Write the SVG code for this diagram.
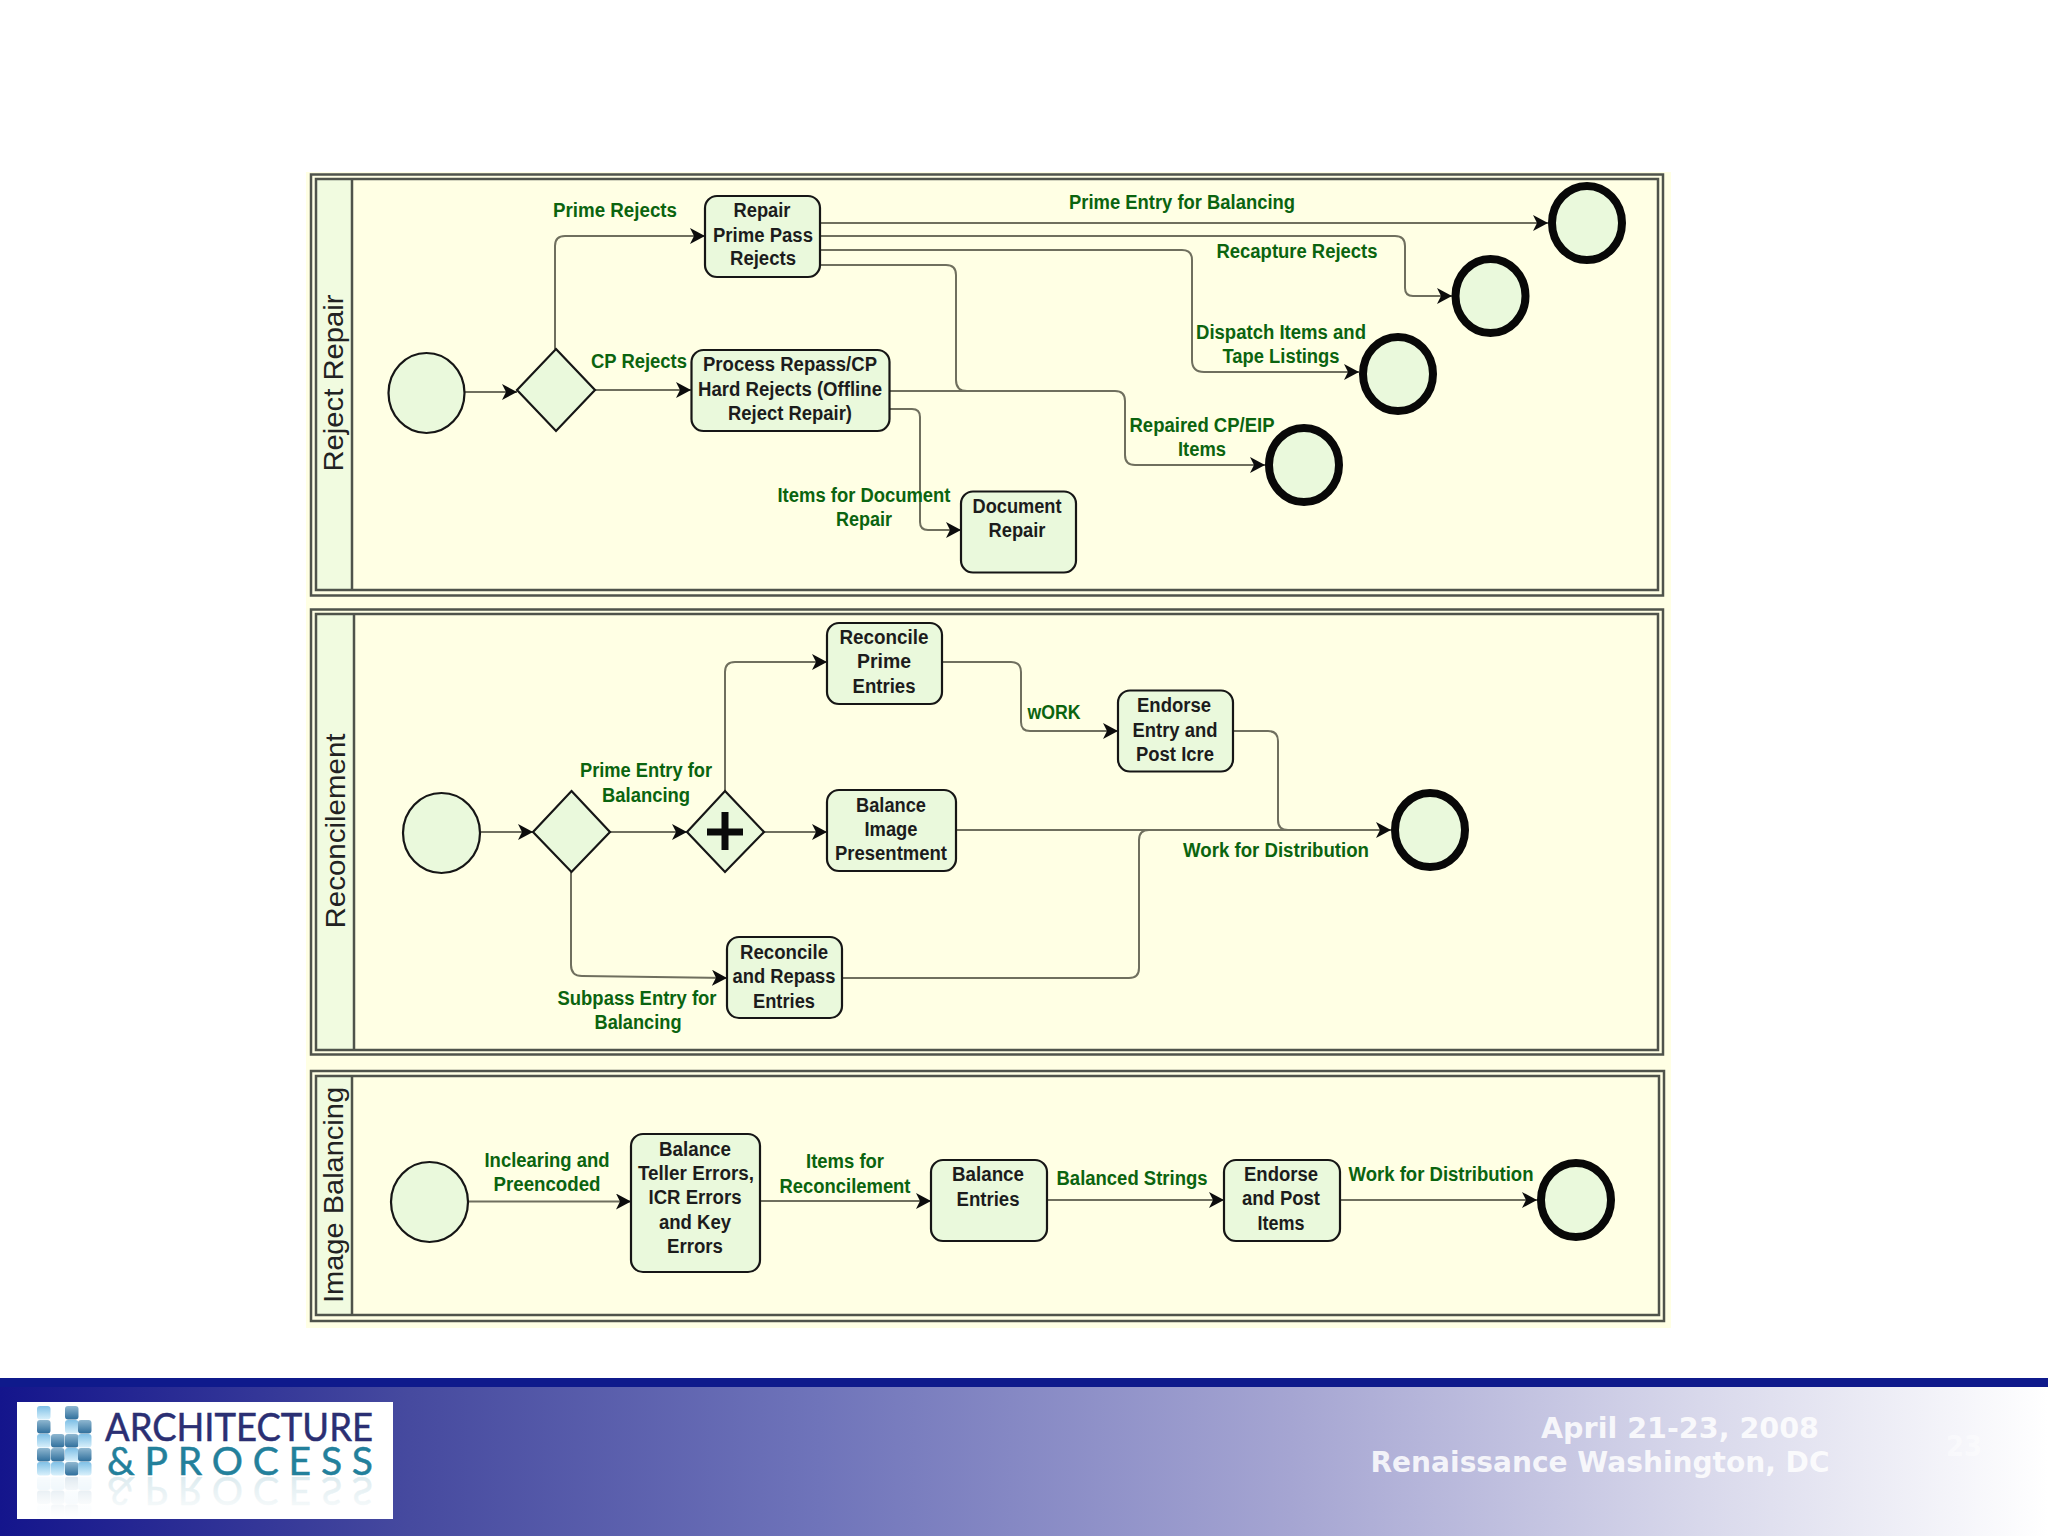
<svg xmlns="http://www.w3.org/2000/svg" xmlns:xlink="http://www.w3.org/1999/xlink" width="2048" height="1536" viewBox="0 0 2048 1536">
<style>
text{font-family:"Liberation Sans",Arial,sans-serif;text-anchor:middle}
.pool{fill:none;stroke:#4f534b;stroke-width:2.5}
.hdr{fill:#f1fbe0}
.lane{font-size:28px;fill:#222}
.n{fill:#eaf9dc;stroke:#161616;stroke-width:2.2}
.e{fill:#eaf9dc;stroke:#080808;stroke-width:8}
.t{font-size:20px;font-weight:700;fill:#1c1c1c}
.l{font-size:20px;font-weight:700;fill:#0b640f}
.c{fill:none;stroke:#6f6f5e;stroke-width:2;marker-end:url(#a)}
.c2{fill:none;stroke:#6f6f5e;stroke-width:2}
.f{font-family:"DejaVu Sans",Verdana,sans-serif;font-weight:700;font-size:28px;fill:#fff}
.d{fill:url(#sq1)}
.b{fill:url(#sq2)}
</style>
<defs>
<marker id="a" markerUnits="userSpaceOnUse" markerWidth="18" markerHeight="18" refX="15" refY="8" orient="auto"><path d="M0,0L15,8L0,16L4,8z" fill="#0c0c0c"/></marker>
<linearGradient id="bar" x1="0" x2="1" y1="0" y2="0"><stop offset="0" stop-color="#14158c"/><stop offset=".2" stop-color="#464a9f"/><stop offset=".4" stop-color="#6f74ba"/><stop offset=".63" stop-color="#a5a5d2"/><stop offset=".83" stop-color="#d8d8eb"/><stop offset="1" stop-color="#fff"/></linearGradient>
<linearGradient id="sq1" x1="0" x2="0" y1="0" y2="1"><stop offset="0" stop-color="#8fb7d0"/><stop offset="1" stop-color="#2f6f9c"/></linearGradient>
<linearGradient id="sq2" x1="0" x2="0" y1="0" y2="1"><stop offset="0" stop-color="#7fc0e6"/><stop offset="1" stop-color="#d8f0fb"/></linearGradient>
<linearGradient id="fade" x1="0" x2="0" y1="0" y2="1"><stop offset="0" stop-color="#fff" stop-opacity=".45"/><stop offset="1" stop-color="#fff" stop-opacity="1"/></linearGradient>
<clipPath id="logoclip"><rect x="17" y="1477" width="376" height="42"/></clipPath>
</defs>
<rect width="2048" height="1536" fill="#fff"/>
<rect x="306" y="172" width="1365" height="1156" fill="#ffffe4"/>

<g id="pools">
<rect x="316" y="179" width="36" height="411" class="hdr"/>
<rect x="316" y="614" width="38" height="436" class="hdr"/>
<rect x="316" y="1076" width="36" height="239" class="hdr"/>
<rect x="311" y="174.500" width="1352" height="421" class="pool"/><rect x="316" y="179" width="1342" height="411" class="pool"/><path d="M352 179V590" class="pool"/>
<rect x="311" y="609.500" width="1352" height="445" class="pool"/><rect x="316" y="614" width="1342" height="436" class="pool"/><path d="M354 614V1050" class="pool"/>
<rect x="311" y="1071" width="1353" height="250" class="pool"/><rect x="316" y="1076" width="1343" height="239" class="pool"/><path d="M352 1076V1315" class="pool"/>
<text class="lane" transform="translate(343 383) rotate(-90)" textLength="177" lengthAdjust="spacingAndGlyphs">Reject Repair</text>
<text class="lane" transform="translate(345 831) rotate(-90)" textLength="195" lengthAdjust="spacingAndGlyphs">Reconcilement</text>
<text class="lane" transform="translate(343 1195) rotate(-90)" textLength="216" lengthAdjust="spacingAndGlyphs">Image Balancing</text>
</g>

<g id="connectors">
<path class="c" d="M465 392H517"/>
<path class="c" d="M555 349V246Q555 236 565 236H705"/>
<path class="c" d="M595 390H691"/>
<path class="c" d="M821 223H1548"/>
<path class="c" d="M821 236H1395Q1405 236 1405 246V288Q1405 296 1413 296H1452"/>
<path class="c" d="M821 250H1182Q1192 250 1192 260V360Q1192 372 1204 372H1359"/>
<path class="c2" d="M821 265H946Q956 265 956 275V380Q956 391 967 391H1000"/>
<path class="c" d="M889 391H1115Q1125 391 1125 401V455Q1125 465 1135 465H1265"/>
<path class="c" d="M889 409H912Q920 409 920 417V522Q920 530 928 530H961"/>

<path class="c" d="M481 832H533"/>
<path class="c" d="M610 832H687"/>
<path class="c" d="M764 832H827"/>
<path class="c" d="M725 791V672Q725 662 735 662H827"/>
<path class="c" d="M942 662H1011Q1021 662 1021 672V722Q1021 731 1030 731H1118"/>
<path class="c2" d="M1234 731H1268Q1278 731 1278 741V820Q1278 830 1288 830H1320"/>
<path class="c" d="M957 830H1391"/>
<path class="c2" d="M843 978H1129Q1139 978 1139 968V840Q1139 830 1149 830H1200"/>
<path class="c" d="M571 872V965Q571 976 582 976L727 978"/>

<path class="c" d="M468 1201.500H631"/>
<path class="c" d="M760 1201H931"/>
<path class="c" d="M1047 1200H1224"/>
<path class="c" d="M1340 1200H1537"/>
</g>

<g id="r-start"><ellipse class="n" cx="426.500" cy="393" rx="38" ry="40"/></g>
<g id="r-gw"><path class="n" d="M556 349L595 390L556 431L517 390z"/></g>
<g id="r-repair"><rect class="n" x="705" y="196" width="115" height="81" rx="12"/>
<text class="t" x="762" y="217" textLength="57" lengthAdjust="spacingAndGlyphs">Repair</text>
<text class="t" x="763" y="242" textLength="100" lengthAdjust="spacingAndGlyphs">Prime Pass</text>
<text class="t" x="763" y="265" textLength="66" lengthAdjust="spacingAndGlyphs">Rejects</text></g>
<g id="r-process"><rect class="n" x="691.500" y="350" width="198" height="81" rx="12"/>
<text class="t" x="790" y="371" textLength="174" lengthAdjust="spacingAndGlyphs">Process Repass/CP</text>
<text class="t" x="790" y="396" textLength="184" lengthAdjust="spacingAndGlyphs">Hard Rejects (Offline</text>
<text class="t" x="790" y="420" textLength="124" lengthAdjust="spacingAndGlyphs">Reject Repair)</text></g>
<g id="r-doc"><rect class="n" x="961" y="491.500" width="115" height="81" rx="12"/>
<text class="t" x="1017" y="513" textLength="89" lengthAdjust="spacingAndGlyphs">Document</text>
<text class="t" x="1017" y="537" textLength="57" lengthAdjust="spacingAndGlyphs">Repair</text></g>
<g id="r-end1"><ellipse class="e" cx="1587" cy="223" rx="35" ry="37"/></g>
<g id="r-end2"><ellipse class="e" cx="1490.500" cy="296" rx="35" ry="37"/></g>
<g id="r-end3"><ellipse class="e" cx="1398" cy="374" rx="35" ry="37"/></g>
<g id="r-end4"><ellipse class="e" cx="1304" cy="465" rx="35" ry="37"/></g>

<g id="c-start"><ellipse class="n" cx="441.500" cy="833" rx="38.500" ry="40"/></g>
<g id="c-gw1"><path class="n" d="M571.500 791L610 832L571.500 872L533 832z"/></g>
<g id="c-gw2"><path class="n" d="M725 791L764 832L725 872L687 832z"/><path d="M707 832H743M725 812V850" fill="none" stroke="#0a0a0a" stroke-width="7"/></g>
<g id="c-prime"><rect class="n" x="827" y="623" width="115" height="81" rx="12"/>
<text class="t" x="884" y="644" textLength="89" lengthAdjust="spacingAndGlyphs">Reconcile</text>
<text class="t" x="884" y="668" textLength="54" lengthAdjust="spacingAndGlyphs">Prime</text>
<text class="t" x="884" y="693" textLength="63" lengthAdjust="spacingAndGlyphs">Entries</text></g>
<g id="c-image"><rect class="n" x="827" y="790" width="129" height="81" rx="12"/>
<text class="t" x="891" y="812" textLength="70" lengthAdjust="spacingAndGlyphs">Balance</text>
<text class="t" x="891" y="836" textLength="53" lengthAdjust="spacingAndGlyphs">Image</text>
<text class="t" x="891" y="860" textLength="112" lengthAdjust="spacingAndGlyphs">Presentment</text></g>
<g id="c-repass"><rect class="n" x="727" y="937" width="115" height="81" rx="12"/>
<text class="t" x="784" y="959" textLength="88" lengthAdjust="spacingAndGlyphs">Reconcile</text>
<text class="t" x="784" y="983" textLength="103" lengthAdjust="spacingAndGlyphs">and Repass</text>
<text class="t" x="784" y="1008" textLength="62" lengthAdjust="spacingAndGlyphs">Entries</text></g>
<g id="c-endorse"><rect class="n" x="1118" y="690.500" width="115" height="81" rx="12"/>
<text class="t" x="1174" y="712" textLength="74" lengthAdjust="spacingAndGlyphs">Endorse</text>
<text class="t" x="1175" y="737" textLength="85" lengthAdjust="spacingAndGlyphs">Entry and</text>
<text class="t" x="1175" y="761" textLength="78" lengthAdjust="spacingAndGlyphs">Post Icre</text></g>
<g id="c-end"><ellipse class="e" cx="1430" cy="830" rx="35" ry="37"/></g>

<g id="i-start"><ellipse class="n" cx="429.500" cy="1202" rx="38.500" ry="40"/></g>
<g id="i-teller"><rect class="n" x="631" y="1134" width="129" height="138" rx="12"/>
<text class="t" x="695" y="1156" textLength="72" lengthAdjust="spacingAndGlyphs">Balance</text>
<text class="t" x="696" y="1180" textLength="116" lengthAdjust="spacingAndGlyphs">Teller Errors,</text>
<text class="t" x="695" y="1204" textLength="93" lengthAdjust="spacingAndGlyphs">ICR Errors</text>
<text class="t" x="695" y="1229" textLength="72" lengthAdjust="spacingAndGlyphs">and Key</text>
<text class="t" x="695" y="1253" textLength="56" lengthAdjust="spacingAndGlyphs">Errors</text></g>
<g id="i-entries"><rect class="n" x="931" y="1160" width="116" height="81" rx="12"/>
<text class="t" x="988" y="1181" textLength="72" lengthAdjust="spacingAndGlyphs">Balance</text>
<text class="t" x="988" y="1206" textLength="63" lengthAdjust="spacingAndGlyphs">Entries</text></g>
<g id="i-post"><rect class="n" x="1224" y="1160" width="116" height="81" rx="12"/>
<text class="t" x="1281" y="1181" textLength="74" lengthAdjust="spacingAndGlyphs">Endorse</text>
<text class="t" x="1281" y="1205" textLength="78" lengthAdjust="spacingAndGlyphs">and Post</text>
<text class="t" x="1281" y="1230" textLength="47" lengthAdjust="spacingAndGlyphs">Items</text></g>
<g id="i-end"><ellipse class="e" cx="1576" cy="1200" rx="35" ry="37"/></g>

<g id="connector-labels">
<text class="l" x="615" y="217" textLength="124" lengthAdjust="spacingAndGlyphs">Prime Rejects</text>
<text class="l" x="639" y="368" textLength="96" lengthAdjust="spacingAndGlyphs">CP Rejects</text>
<text class="l" x="864" y="502" textLength="173" lengthAdjust="spacingAndGlyphs">Items for Document</text>
<text class="l" x="864" y="526" textLength="56" lengthAdjust="spacingAndGlyphs">Repair</text>
<text class="l" x="1182" y="209" textLength="226" lengthAdjust="spacingAndGlyphs">Prime Entry for Balancing</text>
<text class="l" x="1297" y="258" textLength="161" lengthAdjust="spacingAndGlyphs">Recapture Rejects</text>
<text class="l" x="1281" y="339" textLength="170" lengthAdjust="spacingAndGlyphs">Dispatch Items and</text>
<text class="l" x="1281" y="363" textLength="117" lengthAdjust="spacingAndGlyphs">Tape Listings</text>
<text class="l" x="1202" y="432" textLength="145" lengthAdjust="spacingAndGlyphs">Repaired CP/EIP</text>
<text class="l" x="1202" y="456" textLength="48" lengthAdjust="spacingAndGlyphs">Items</text>
<text class="l" x="646" y="777" textLength="132" lengthAdjust="spacingAndGlyphs">Prime Entry for</text>
<text class="l" x="646" y="802" textLength="88" lengthAdjust="spacingAndGlyphs">Balancing</text>
<text class="l" x="637" y="1005" textLength="159" lengthAdjust="spacingAndGlyphs">Subpass Entry for</text>
<text class="l" x="638" y="1029" textLength="87" lengthAdjust="spacingAndGlyphs">Balancing</text>
<text class="l" x="1054" y="719" textLength="53" lengthAdjust="spacingAndGlyphs">wORK</text>
<text class="l" x="1276" y="857" textLength="186" lengthAdjust="spacingAndGlyphs">Work for Distribution</text>
<text class="l" x="547" y="1167" textLength="125" lengthAdjust="spacingAndGlyphs">Inclearing and</text>
<text class="l" x="547" y="1191" textLength="107" lengthAdjust="spacingAndGlyphs">Preencoded</text>
<text class="l" x="845" y="1168" textLength="78" lengthAdjust="spacingAndGlyphs">Items for</text>
<text class="l" x="845" y="1193" textLength="131" lengthAdjust="spacingAndGlyphs">Reconcilement</text>
<text class="l" x="1132" y="1185" textLength="151" lengthAdjust="spacingAndGlyphs">Balanced Strings</text>
<text class="l" x="1441" y="1181" textLength="185" lengthAdjust="spacingAndGlyphs">Work for Distribution</text>
</g>

<g id="footer">
<rect x="0" y="1378" width="2048" height="158" fill="url(#bar)"/>
<rect x="0" y="1378" width="2048" height="9" fill="#0f1a8c"/>
<rect x="17" y="1402" width="376" height="117" fill="#fff"/>
<g id="logo-squares">
<rect class="b" x="37" y="1406" width="13.500" height="13.500" rx="3"/><rect class="d" x="37" y="1420" width="13.500" height="13.500" rx="3"/><rect class="b" x="37" y="1434" width="13.500" height="13.500" rx="3"/><rect class="d" x="37" y="1448" width="13.500" height="13.500" rx="3"/><rect class="b" x="37" y="1462" width="13.500" height="13.500" rx="3"/>
<rect class="d" x="51" y="1434" width="13.500" height="13.500" rx="3"/><rect class="d" x="51" y="1448" width="13.500" height="13.500" rx="3"/><rect class="b" x="51" y="1462" width="13.500" height="13.500" rx="3"/>
<rect class="d" x="65" y="1406" width="13.500" height="13.500" rx="3"/><rect class="b" x="65" y="1420" width="13.500" height="13.500" rx="3"/><rect class="d" x="65" y="1434" width="13.500" height="13.500" rx="3"/><rect class="b" x="65" y="1448" width="13.500" height="13.500" rx="3"/><rect class="d" x="65" y="1462" width="13.500" height="13.500" rx="3"/>
<rect class="d" x="78" y="1420" width="13.500" height="13.500" rx="3"/><rect class="b" x="78" y="1434" width="13.500" height="13.500" rx="3"/><rect class="d" x="78" y="1448" width="13.500" height="13.500" rx="3"/><rect class="b" x="78" y="1462" width="13.500" height="13.500" rx="3"/>
</g>
<text x="239" y="1441" font-size="39" fill="#2b2f73" stroke="#2b2f73" stroke-width=".5" style="font-family:Lato,'Liberation Sans',sans-serif" textLength="268" lengthAdjust="spacingAndGlyphs">ARCHITECTURE</text>
<text id="logo2" x="240" y="1475" font-size="39" fill="#23809b" stroke="#23809b" stroke-width=".5" style="font-family:Lato,'Liberation Sans',sans-serif" textLength="266" lengthAdjust="spacing">&amp;PROCESS</text>
<g clip-path="url(#logoclip)"><g opacity=".28"><use xlink:href="#logo2" href="#logo2" transform="translate(0 2952) scale(1 -1)"/><use xlink:href="#logo-squares" href="#logo-squares" transform="translate(0 2952) scale(1 -1)"/></g>
<rect x="30" y="1477" width="350" height="42" fill="url(#fade)"/></g>
<text class="f" x="1680" y="1438" fill-opacity=".85" textLength="278" lengthAdjust="spacingAndGlyphs">April 21-23, 2008</text>
<text class="f" x="1600" y="1472" fill-opacity=".85" textLength="459" lengthAdjust="spacingAndGlyphs">Renaissance Washington, DC</text>
<text class="f" x="1964" y="1456" fill-opacity=".45" textLength="36" lengthAdjust="spacingAndGlyphs">23</text>
</g>
</svg>
